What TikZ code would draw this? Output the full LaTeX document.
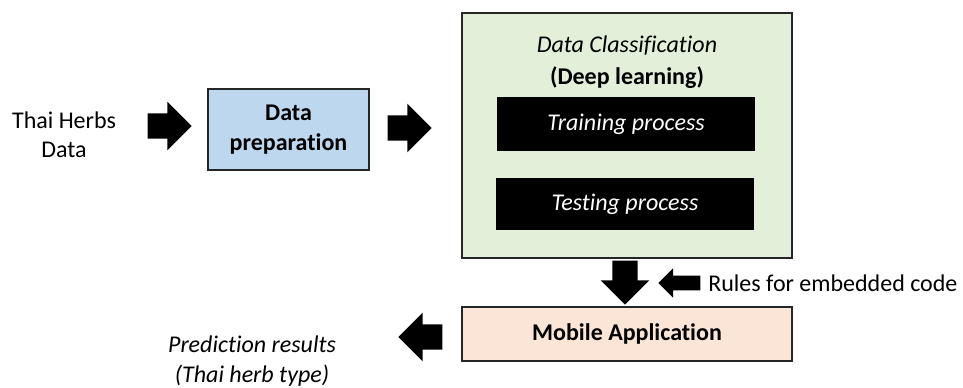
\documentclass[tikz,border=0pt]{standalone}
\usepackage{fontspec}
\setmainfont{Carlito}[RawFeature=-liga]
\usetikzlibrary{shapes.arrows, positioning}
\definecolor{prepBlue}{HTML}{BDD7EE}
\definecolor{classGreen}{HTML}{E2F0D9}
\definecolor{appPeach}{HTML}{FBE5D6}
\definecolor{frameGray}{RGB}{38,38,38}
\tikzset{
  stage/.style={draw=frameGray, line width=1.5pt, align=center, inner sep=0pt, font=\bfseries},
  process/.style={fill=black, text=white, align=center, inner sep=0pt, font=\itshape,
                  minimum width=193.5pt},
  plaintext/.style={align=center, inner sep=0pt},
  bigarrow/.style={single arrow, fill=black, inner xsep=0pt, inner ysep=9.25pt,
                   single arrow head extend=8.75pt, minimum height=33pt, anchor=tip},
  smallarrow/.style={single arrow, fill=black, inner xsep=0pt, inner ysep=5.25pt,
                     single arrow head extend=5.6pt, minimum height=31.5pt, anchor=tip},
}

\begin{document}
\fontsize{18}{22}\selectfont
\begin{tikzpicture}[x=0.75pt, y=-0.75pt]
    \useasboundingbox (0,0) rectangle (963,387);
    % input and preparation
    \node[plaintext] (herbs) at (64,135) {Thai Herbs\\Data};
    \node[bigarrow] (a1) at (192,126) {};
    \node[stage, fill=prepBlue, minimum width=120.75pt, minimum height=60.75pt]
      (prep) at (288.5,129.5) {Data\\preparation};
    \node[bigarrow] (a2) at (432,128) {};
    % classification block
    \node[stage, fill=classGreen, minimum width=247.5pt, minimum height=183.75pt]
      (cls) at (627,135.5) {};
    \node[plaintext] (clstitle) at (627,62)
      {{\itshape\mdseries Data Classification}\\[2pt]{\bfseries (Deep learning)}};
    \node[process, minimum height=40.5pt] (train) at (626,124) {Training process};
    \node[process, minimum height=39pt]   (test)  at (625,204) {Testing process};
    % deployment
    \node[bigarrow, rotate=-90] (down) at (625,305) {};
    \node[smallarrow, rotate=180] (rulesarr) at (658,283) {};
    \node[plaintext, anchor=west] (rules) at (708,283) {Rules for embedded code};
    \node[stage, fill=appPeach, minimum width=247.5pt, minimum height=40.5pt]
      (app) at (627,334) {Mobile Application};
    \node[bigarrow, rotate=180] (out) at (398,337) {};
    \node[plaintext, font=\itshape] (result) at (252,361) {Prediction results\\(Thai herb type)};
\end{tikzpicture}
\end{document}
